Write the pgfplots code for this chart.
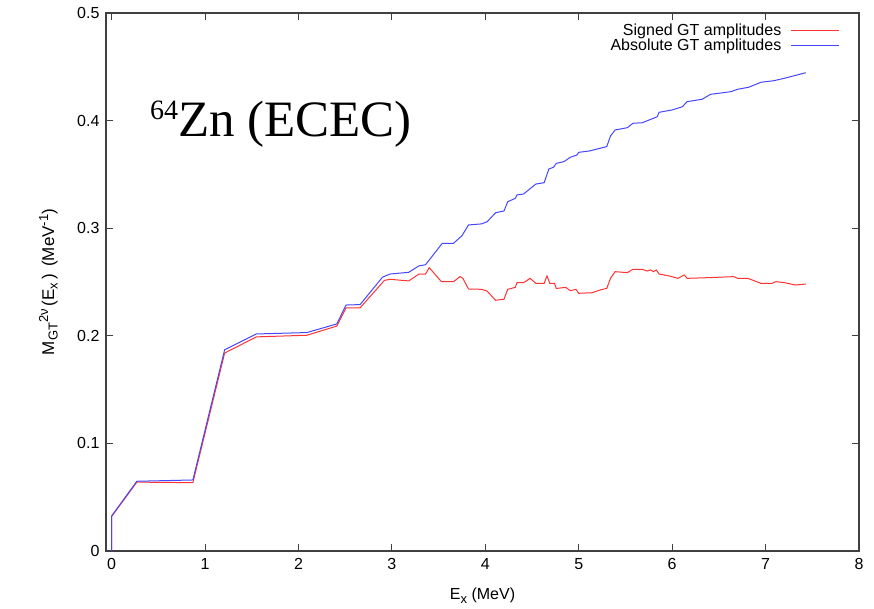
\documentclass[border=0pt]{standalone}
\usepackage{fontspec}
\setmainfont{Liberation Sans}
\newfontfamily\timesfont{Liberation Serif}
\usepackage{pgfplots}
\pgfplotsset{compat=1.18}
\definecolor{sigred}{RGB}{255,50,50}
\definecolor{absblue}{RGB}{70,70,255}
\newcommand{\sub}[1]{\raisebox{-3.5pt}{\fontsize{13}{13}\selectfont #1}}
\newcommand{\sups}[1]{\raisebox{6pt}{\fontsize{13}{13}\selectfont #1}}
\begin{document}
\begin{tikzpicture}
\begin{axis}[
  name=ax,
  scale only axis,
  width=753pt, height=538pt,
  xmin=-0.06, xmax=8, ymin=0, ymax=0.5,
  xtick={0,1,...,8},
  ytick={0,0.1,0.2,0.3,0.4,0.5},
  yticklabels={0,0.1,0.2,0.3,0.4,0.5},
  tick align=inside,
  major tick length=7pt,
  axis line style={black!75, line width=1.1pt},
  every tick/.style={black!75, line width=0.9pt},
  font=\fontsize{16}{18}\selectfont,
  /pgf/number format/assume math mode=true,
  xticklabel style={yshift=-4pt},
  yticklabel style={xshift=-3pt},
  xlabel={E\sub{x} (MeV)},
  ylabel={M\sub{GT}\sups{2ν}\,(E\sub{x}\,) \,(MeV\sups{-1})},
  xlabel style={at={(axis description cs:0.5,-0.091)}, anchor=base},
  ylabel style={at={(axis description cs:-0.069,0.5)}, anchor=base, font=\fontsize{17}{18}\selectfont},
  legend style={at={(1,1)}, anchor=north east, xshift=-16pt, yshift=-8pt,
    draw=none, fill=none, font=\fontsize{16}{16}\selectfont,
    nodes={inner sep=0.5pt}, row sep=1pt, column sep=9pt},
  legend cell align=right,
  legend plot pos=right,
  legend image code/.code={\draw[#1] (0pt,0pt) -- (48pt,0pt);},
]
\addplot[sigred, line width=1pt] coordinates {
(0,0) (0,0.032) (0.27,0.064) (0.87,0.0635) (1.21,0.184) (1.55,0.199)
(2.09,0.2005) (2.41,0.209) (2.51,0.226) (2.66,0.226) (2.92,0.2515)
(2.98,0.2525) (3.18,0.251) (3.29,0.2574) (3.36,0.2574) (3.40,0.2633)
(3.53,0.2503) (3.66,0.2503) (3.73,0.255) (3.76,0.2534) (3.82,0.2435)
(3.96,0.2432) (4.02,0.2415) (4.11,0.233) (4.20,0.234) (4.24,0.2432)
(4.32,0.245) (4.34,0.2494) (4.41,0.2494) (4.48,0.2534) (4.54,0.2488)
(4.63,0.2488) (4.66,0.2556) (4.69,0.2488) (4.74,0.2488) (4.76,0.244)
(4.86,0.245) (4.91,0.2419) (4.97,0.2432) (5.00,0.2395) (5.14,0.2400)
(5.23,0.2426) (5.30,0.2441) (5.34,0.2534) (5.39,0.2596) (5.52,0.2587)
(5.58,0.2618) (5.68,0.2618) (5.73,0.2602) (5.77,0.2612) (5.80,0.2596)
(5.83,0.2612) (5.86,0.2574) (5.97,0.2556) (6.06,0.2534) (6.13,0.2565)
(6.16,0.2534) (6.38,0.2540) (6.66,0.2550) (6.70,0.2534) (6.81,0.2534)
(6.95,0.2488) (7.07,0.2488) (7.11,0.2503) (7.20,0.2494) (7.32,0.2472)
(7.43,0.2481)
};
\addlegendentry{Signed GT amplitudes}
\addplot[absblue, line width=1pt] coordinates {
(0,0) (0,0.0325) (0.27,0.0648) (0.87,0.066) (1.21,0.187) (1.55,0.2017)
(2.09,0.203) (2.41,0.211) (2.51,0.2286) (2.66,0.229) (2.90,0.2545)
(2.98,0.2574) (3.18,0.259) (3.29,0.265) (3.36,0.266) (3.54,0.286)
(3.66,0.286) (3.75,0.293) (3.82,0.303) (3.96,0.304) (4.02,0.306)
(4.11,0.3144) (4.20,0.316) (4.24,0.3246) (4.32,0.3277) (4.34,0.3309)
(4.41,0.3318) (4.54,0.341) (4.63,0.3423) (4.68,0.355) (4.73,0.3566)
(4.76,0.3603) (4.84,0.3618) (4.91,0.3659) (4.98,0.368) (5.00,0.3705)
(5.11,0.3717) (5.30,0.3758) (5.34,0.3857) (5.39,0.3913) (5.52,0.3934)
(5.58,0.3975) (5.68,0.3980) (5.84,0.4036) (5.86,0.4077) (6.00,0.4099)
(6.11,0.4129) (6.16,0.4176) (6.32,0.4198) (6.41,0.4244) (6.63,0.4269)
(6.70,0.4291) (6.82,0.4310) (6.95,0.4356) (7.09,0.4371) (7.20,0.4393)
(7.43,0.4445)
};
\addlegendentry{Absolute GT amplitudes}
\node[anchor=base west, inner sep=0pt, font=\timesfont\fontsize{51}{53}\selectfont]
  at (axis cs:0.41,0.385) {\raisebox{17pt}{\fontsize{28}{28}\selectfont 64}Zn (ECEC)};
\end{axis}
\pgfresetboundingbox
\path[use as bounding box] ([xshift=-106pt,yshift=-58pt]ax.south west) rectangle ([xshift=15pt,yshift=13pt]ax.north east);
\end{tikzpicture}
\end{document}
